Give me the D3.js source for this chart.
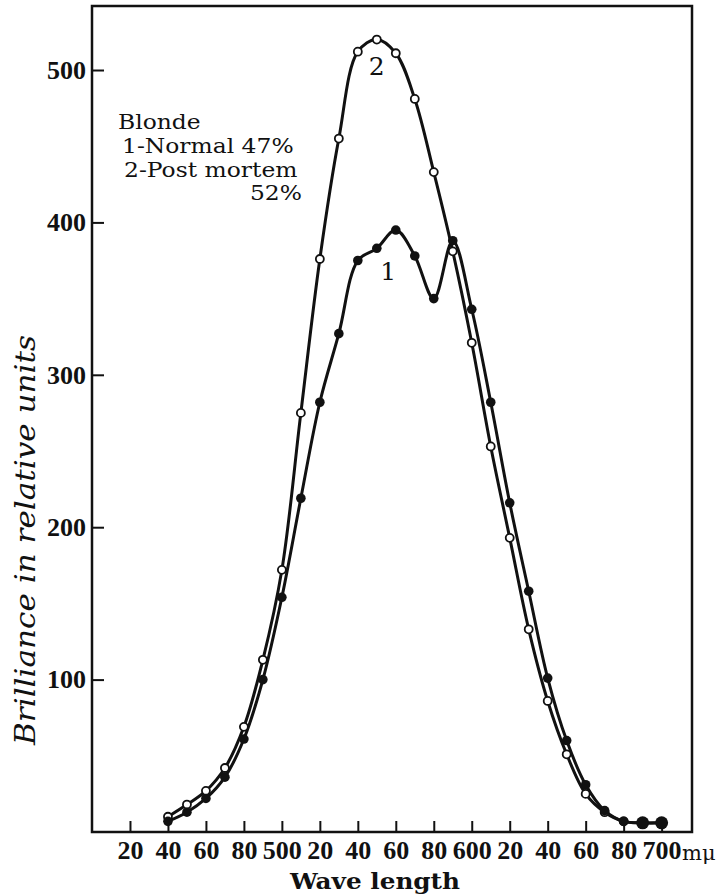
<!DOCTYPE html>
<html>
<head>
<meta charset="utf-8">
<script src="https://cdn.jsdelivr.net/npm/d3@7"></script>
<style>
  body { margin: 0; background: #fff; }
  svg { display: block; }
</style>
</head>
<body>
<div id="chart-area"></div>
<script>
// Brilliance of blonde hair, normal vs post mortem

var waveLengths = [440, 450, 460, 470, 480, 490, 500, 510, 520, 530, 540, 550, 560, 570,
    580, 590, 600, 610, 620, 630, 640, 650, 660, 670, 680, 690, 700];

// curve 1 - filled dots
var normal = [7, 13, 22, 36, 61, 100, 154, 219, 282, 327, 375, 383, 395, 378,
    350, 388, 343, 282, 216, 158, 101, 60, 31, 14, 7, 6, 6];

// curve 2 - open circles
var postMortem = [10, 18, 27, 42, 69, 113, 172, 275, 376, 455, 512, 520, 511, 481,
    433, 381, 321, 253, 193, 133, 86, 51, 25, 13, 7, 6, 6];

var xTicks = [420, 440, 460, 480, 500, 520, 540, 560, 580, 600, 620, 640, 660, 680, 700];
var yTicks = [100, 200, 300, 400, 500];

var legendLines = ["Blonde", "1-Normal 47%", "2-Post mortem", "52%"];

var margin = { left: 92, right: 30, top: 6, bottom: 64 };
var width = 722 - margin.left - margin.right,
    height = 896 - margin.top - margin.bottom;

var svg = d3.select("#chart-area")
    .append("svg")
    .attr("width", 722)
    .attr("height", 896);

var g = svg.append("g")
    .attr("transform", "translate(" + margin.left + ", " + margin.top + ")");

var x = d3.scaleLinear().domain([400, 716]).range([0, width]);
var y = d3.scaleLinear().domain([0, 542]).range([height, 0]);

var tickFont = "'Liberation Serif', serif";
var slabFont = "'DejaVu Serif', serif";

// frame
g.append("rect")
    .attr("x", 0).attr("y", 0)
    .attr("width", width).attr("height", height)
    .attr("fill", "none")
    .attr("stroke", "#111")
    .attr("stroke-width", 2.5);

// axes
var xAxis = d3.axisBottom(x)
    .tickValues(xTicks)
    .tickSize(-11)
    .tickPadding(9)
    .tickFormat(function (d) { return d % 100 === 0 ? d : d % 100; });

var yAxis = d3.axisLeft(y)
    .tickValues(yTicks)
    .tickSize(-12)
    .tickPadding(6);

var gx = g.append("g")
    .attr("transform", "translate(0," + height + ")")
    .call(xAxis);
var gy = g.append("g").call(yAxis);

[gx, gy].forEach(function (a) {
    a.select(".domain").remove();
    a.selectAll(".tick line").attr("stroke", "#111").attr("stroke-width", 2);
    a.selectAll(".tick text")
        .attr("fill", "#111")
        .style("font-family", tickFont)
        .style("font-weight", "bold")
        .style("font-size", "26px");
});

// curves
var line = d3.line()
    .x(function (d) { return x(d[0]); })
    .y(function (d) { return y(d[1]); })
    .curve(d3.curveCatmullRom.alpha(0.5));

var series1 = waveLengths.map(function (w, i) { return [w, normal[i]]; });
var series2 = waveLengths.map(function (w, i) { return [w, postMortem[i]]; });

g.append("path")
    .datum(series2)
    .attr("d", line)
    .attr("fill", "none")
    .attr("stroke", "#111")
    .attr("stroke-width", 3);

g.append("path")
    .datum(series1)
    .attr("d", line)
    .attr("fill", "none")
    .attr("stroke", "#111")
    .attr("stroke-width", 3);

g.selectAll(".open")
    .data(series2)
    .enter()
    .append("circle")
    .attr("class", "open")
    .attr("cx", function (d) { return x(d[0]); })
    .attr("cy", function (d) { return y(d[1]); })
    .attr("r", 4)
    .attr("fill", "#fff")
    .attr("stroke", "#111")
    .attr("stroke-width", 1.8);

g.selectAll(".filled")
    .data(series1)
    .enter()
    .append("circle")
    .attr("class", "filled")
    .attr("cx", function (d) { return x(d[0]); })
    .attr("cy", function (d) { return y(d[1]); })
    .attr("r", function (d) { return d[0] >= 690 ? 6.5 : 4.8; })
    .attr("fill", "#111");

// curve numbers
g.append("text")
    .attr("x", x(550)).attr("y", y(520) + 35)
    .attr("text-anchor", "middle")
    .style("font-family", slabFont)
    .style("font-size", "25px")
    .attr("fill", "#111")
    .text("2");

g.append("text")
    .attr("x", x(556)).attr("y", y(395) + 50)
    .attr("text-anchor", "middle")
    .style("font-family", slabFont)
    .style("font-size", "25px")
    .attr("fill", "#111")
    .text("1");

// legend
var legendPos = [
    { x: 118, y: 129, anchor: "start" },
    { x: 122, y: 153, anchor: "start" },
    { x: 124, y: 177, anchor: "start" },
    { x: 302, y: 200, anchor: "end" }
];
svg.selectAll(".legend")
    .data(legendLines)
    .enter()
    .append("text")
    .attr("class", "legend")
    .attr("x", function (d, i) { return legendPos[i].x; })
    .attr("y", function (d, i) { return legendPos[i].y; })
    .attr("text-anchor", function (d, i) { return legendPos[i].anchor; })
    .style("font-family", slabFont)
    .style("font-size", "20px")
    .attr("fill", "#111")
    .text(function (d) { return d; })
    .each(function () {
        // the lettering in the original is wide: stretch a little
        var w = this.getComputedTextLength();
        d3.select(this)
            .attr("textLength", w * 1.17)
            .attr("lengthAdjust", "spacingAndGlyphs");
    });

// axis titles
svg.append("text")
    .attr("x", 682).attr("y", 860)
    .style("font-family", slabFont)
    .style("font-size", "21px")
    .attr("fill", "#111")
    .text("mμ");

svg.append("text")
    .attr("x", 375).attr("y", 889)
    .attr("text-anchor", "middle")
    .attr("textLength", 170)
    .attr("lengthAdjust", "spacingAndGlyphs")
    .style("font-family", slabFont)
    .style("font-weight", "bold")
    .style("font-size", "22px")
    .attr("fill", "#111")
    .text("Wave length");

svg.append("text")
    .attr("transform", "translate(35, 540) rotate(-90)")
    .attr("text-anchor", "middle")
    .attr("textLength", 410)
    .attr("lengthAdjust", "spacingAndGlyphs")
    .style("font-family", slabFont)
    .style("font-style", "italic")
    .style("font-size", "28px")
    .attr("fill", "#111")
    .text("Brilliance in relative units");
</script>
</body>
</html>
